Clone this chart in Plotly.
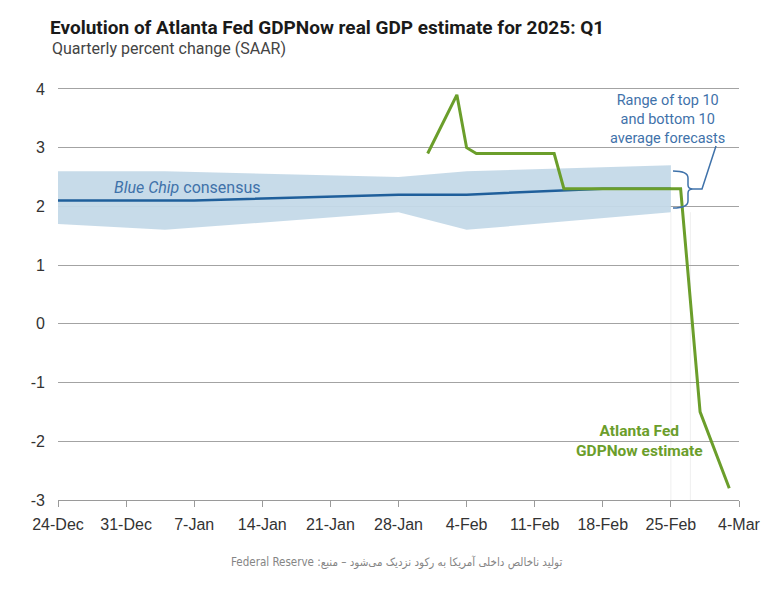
import plotly.graph_objects as go

# ---------------- data ----------------
gdpnow_dates = ["2025-01-31", "2025-02-03", "2025-02-04", "2025-02-05", "2025-02-13",
                "2025-02-14", "2025-02-26", "2025-02-28", "2025-03-03"]
gdpnow_values = [2.9, 3.9, 3.0, 2.9, 2.9, 2.3, 2.3, -1.5, -2.8]

bluechip_dates = ["2024-12-24", "2025-01-07", "2025-01-28", "2025-02-04", "2025-02-18", "2025-02-25"]
bluechip_values = [2.1, 2.1, 2.2, 2.2, 2.3, 2.3]

band_dates = ["2024-12-24", "2025-01-04", "2025-01-28", "2025-02-04", "2025-02-25"]
band_upper = [2.6, 2.6, 2.5, 2.6, 2.7]
band_lower = [1.7, 1.6, 1.9, 1.6, 1.9]

x_tick_dates = ["2024-12-24", "2024-12-31", "2025-01-07", "2025-01-14", "2025-01-21", "2025-01-28",
                "2025-02-04", "2025-02-11", "2025-02-18", "2025-02-25", "2025-03-04"]
x_tick_labels = ["24-Dec", "31-Dec", "7-Jan", "14-Jan", "21-Jan", "28-Jan",
                 "4-Feb", "11-Feb", "18-Feb", "25-Feb", "4-Mar"]
y_ticks = [-3, -2, -1, 0, 1, 2, 3, 4]

# ---------------- style ----------------
W, H = 783, 592
ML, MR, MT, MB = 58, 44, 86, 92
PW, PH = W - ML - MR, H - MT - MB

GREEN = "#6b9e2b"
BLUE_LINE = "#1f5f9b"
BAND = "rgba(196,217,232,0.95)"
ANN_BLUE = "#3f72aa"
GRID = "#a3a3a3"
TICK_FONT = dict(family="Liberation Sans, Arial, sans-serif", size=16, color="#333333")


def px(xp):
    return (xp - ML) / PW


def py(yp):
    return (H - MB - yp) / PH


fig = go.Figure()

fig.add_trace(go.Scatter(x=band_dates, y=band_lower, mode="lines",
                         line=dict(width=0, color=BAND), hoverinfo="skip", showlegend=False))
fig.add_trace(go.Scatter(x=band_dates, y=band_upper, mode="lines", fill="tonexty",
                         fillcolor=BAND, line=dict(width=0, color=BAND),
                         hoverinfo="skip", showlegend=False))
fig.add_trace(go.Scatter(x=bluechip_dates, y=bluechip_values, mode="lines",
                         line=dict(color=BLUE_LINE, width=2.5), showlegend=False))
fig.add_trace(go.Scatter(x=gdpnow_dates, y=gdpnow_values, mode="lines",
                         line=dict(color=GREEN, width=3), showlegend=False))

# faint vertical guide lines near the end
for d in ["2025-02-25", "2025-02-27"]:
    fig.add_shape(type="line", xref="x", yref="y", x0=d, x1=d, y0=-3, y1=1.9,
                  line=dict(color="#efefef", width=1), layer="below")

# brace + connector
def P(a, b):
    return f"{px(a):.5f},{py(b):.5f}"

brace = (f"M {P(673,171)} Q {P(688,171)} {P(688,178)} L {P(688,185)} "
         f"Q {P(688,189)} {P(693,189)} Q {P(688,189)} {P(688,193)} "
         f"L {P(688,201)} Q {P(688,208)} {P(673,208)}")
fig.add_shape(type="path", xref="paper", yref="paper", path=brace,
              line=dict(color=ANN_BLUE, width=1.5))
fig.add_shape(type="path", xref="paper", yref="paper",
              path=f"M {P(693,189)} L {P(702,189)} L {P(716,146)}",
              line=dict(color=ANN_BLUE, width=1.5))

annotations = [
    dict(text="Quarterly percent change (SAAR)", xref="paper", yref="paper",
         x=px(50), y=py(48), xanchor="left", yanchor="middle", showarrow=False,
         font=dict(family="Roboto, sans-serif", size=16, color="#444444")),
    dict(text="<i>Blue Chip</i> consensus", xref="paper", yref="paper",
         x=px(112), y=py(187), xanchor="left", yanchor="middle", showarrow=False,
         font=dict(family="Roboto, sans-serif", size=16, color=ANN_BLUE)),
    dict(text="Range of top 10<br>and bottom 10<br>average forecasts", xref="paper", yref="paper",
         x=px(667), y=py(119), xanchor="center", yanchor="middle", showarrow=False,
         align="center", font=dict(family="Roboto, sans-serif", size=14.5, color=ANN_BLUE)),
    dict(text="<b>Atlanta Fed<br>GDPNow estimate</b>", xref="paper", yref="paper",
         x=px(639), y=py(441), xanchor="center", yanchor="middle", showarrow=False,
         align="center", font=dict(family="Roboto, sans-serif", size=15.5, color=GREEN)),
    dict(text="\u202bتولید ناخالص داخلی آمریکا به رکود نزدیک می‌شود – منبع: Federal Reserve\u202c",
         xref="paper", yref="paper", x=px(396), y=py(562), xanchor="center", yanchor="middle",
         showarrow=False, font=dict(family="DejaVu Sans Condensed, Noto Sans, sans-serif",
                                    size=11.5, color="#858585")),
]

fig.update_layout(
    width=W, height=H,
    margin=dict(l=ML, r=MR, t=MT, b=MB),
    paper_bgcolor="white", plot_bgcolor="white",
    title=dict(text="<b>Evolution of Atlanta Fed GDPNow real GDP estimate for 2025: Q1</b>",
               x=50 / W, xanchor="left", y=1 - 27 / H, yanchor="middle",
               font=dict(family="Roboto, sans-serif", size=19, color="#1a1a1a")),
    annotations=annotations,
    showlegend=False,
    xaxis=dict(type="date", range=["2024-12-24", "2025-03-04"],
               tickmode="array", tickvals=x_tick_dates, ticktext=x_tick_labels,
               showgrid=False, zeroline=False, showline=True, linecolor="#9a9a9a", linewidth=1,
               ticks="outside", ticklen=6, tickcolor="#9a9a9a", tickwidth=1,
               tickfont=TICK_FONT, ticklabelstandoff=4),
    yaxis=dict(range=[-3, 4.05], tickmode="array", tickvals=y_ticks,
               ticktext=[str(v) for v in y_ticks],
               showgrid=True, gridcolor=GRID, gridwidth=1, zeroline=False, showline=False,
               ticks="", tickfont=TICK_FONT, ticklabelstandoff=12),
)

fig.write_html("out.html", config={"displayModeBar": False},
               post_script="document.body.style.margin='0';")
